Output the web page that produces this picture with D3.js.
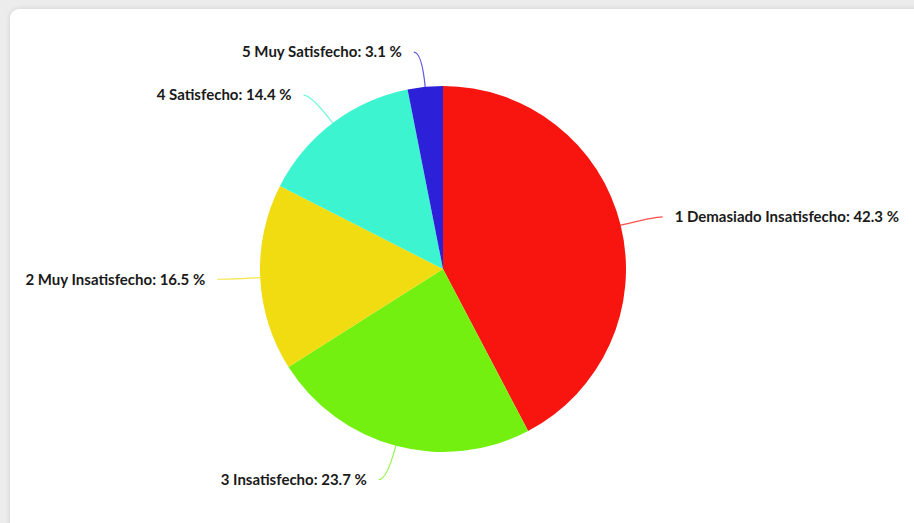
<!DOCTYPE html>
<html>
<head>
<meta charset="utf-8">
<script src="https://cdn.jsdelivr.net/npm/d3@7/dist/d3.min.js"></script>
<style>
  html, body { margin: 0; padding: 0; }
  body { width: 914px; height: 523px; overflow: hidden; background: #ececec; position: relative; }
  #card {
    position: absolute; left: 10px; top: 9px; width: 940px; height: 540px;
    background: #fff; border-radius: 9px;
    box-shadow: 0 0 5px rgba(0,0,0,0.12);
  }
  #chart { position: absolute; left: 0; top: 0; }
  text { font-family: Lato, "Open Sans", sans-serif; font-weight: 700; fill: #1a1a1a; }
</style>
</head>
<body>
<div id="card"></div>
<svg id="chart" width="914" height="523"></svg>
<script>
// Satisfaction survey shares (percent), in drawing order clockwise from 12 o'clock
const categories = [
  "1 Demasiado Insatisfecho",
  "3 Insatisfecho",
  "2 Muy Insatisfecho",
  "4 Satisfecho",
  "5 Muy Satisfecho"
];
const values = [42.3, 23.7, 16.5, 14.4, 3.1];
const colors = ["#f8140f", "#74f010", "#f0dc10", "#3cf4d0", "#2c20d8"];

const data = categories.map((c, i) => ({ name: c, value: values[i], color: colors[i] }));

const svg = d3.select("#chart");
const cx = 443, cy = 269, r = 183;
const g = svg.append("g").attr("transform", `translate(${cx},${cy})`);

const pie = d3.pie().sort(null).value(d => d.value);
const arcs = pie(data);
const arc = d3.arc().innerRadius(0).outerRadius(r);

g.selectAll("path.slice")
  .data(arcs)
  .join("path")
  .attr("class", "slice")
  .attr("d", arc)
  .attr("fill", d => d.data.color);

// polar helper: angle measured clockwise from 12 o'clock
const polar = (a, rad) => [Math.sin(a) * rad, -Math.cos(a) * rad];

const labelGap = 35, tail = 8, textPad = 12;
arcs.forEach(d => {
  const a = (d.startAngle + d.endAngle) / 2;
  const side = Math.sin(a) >= 0 ? 1 : -1;
  const p0 = polar(a, r);
  const p1 = polar(a, r + labelGap);
  const p2 = [p1[0] + side * tail, p1[1]];
  g.append("path")
    .attr("d", `M${p0[0]},${p0[1]} Q${p1[0]},${p1[1]} ${p2[0]},${p2[1]}`)
    .attr("fill", "none")
    .attr("stroke", d.data.color)
    .attr("stroke-opacity", 0.75)
    .attr("stroke-width", 1.2);
  g.append("text")
    .attr("x", p2[0] + side * textPad)
    .attr("y", p2[1])
    .attr("dy", "0.35em")
    .attr("text-anchor", side > 0 ? "start" : "end")
    .attr("font-size", 15)
    .text(`${d.data.name}: ${d3.format(".1f")(d.data.value)} %`);
});
</script>
</body>
</html>
